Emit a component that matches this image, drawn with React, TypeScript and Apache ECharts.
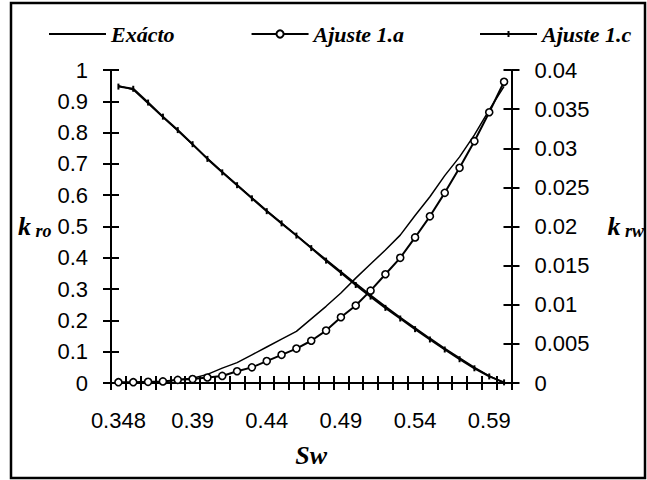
import React, { useEffect, useRef } from "react";
import * as echarts from "echarts";

const categories = [
  "0.348", "0.35", "0.36", "0.37", "0.38", "0.39", "0.4", "0.41", "0.42", "0.43",
  "0.44", "0.45", "0.46", "0.47", "0.48", "0.49", "0.5", "0.51", "0.52", "0.53",
  "0.54", "0.55", "0.56", "0.57", "0.58", "0.59", "0.6",
];

const kroExact = [
  0.95, 0.937, 0.893, 0.849, 0.806, 0.762, 0.718, 0.675, 0.633, 0.592,
  0.551, 0.511, 0.472, 0.433, 0.394, 0.356, 0.318, 0.281, 0.245, 0.21,
  0.176, 0.143, 0.111, 0.08, 0.05, 0.023, 0,
];

const krwExact = [
  0, 0, 0.0001, 0.0002, 0.0004, 0.0006, 0.0011, 0.0019, 0.0026, 0.0036,
  0.0046, 0.0056, 0.0066, 0.0082, 0.0098, 0.0115, 0.0134, 0.0152, 0.017, 0.0189,
  0.0214, 0.0238, 0.0265, 0.0289, 0.0317, 0.0349, 0.0379,
];

const krwAjuste1a = [
  0.0001, 0.0001, 0.00015, 0.0002, 0.0004, 0.0005, 0.0007, 0.0009, 0.0015, 0.002,
  0.0028, 0.0036, 0.0044, 0.0054, 0.0067, 0.0084, 0.0099, 0.0118, 0.0139, 0.016,
  0.0186, 0.0213, 0.0243, 0.0275, 0.0309, 0.0346, 0.0385,
];

const kroAjuste1c = [
  0.947, 0.94, 0.896, 0.851, 0.808, 0.763, 0.716, 0.673, 0.632, 0.59,
  0.549, 0.51, 0.471, 0.431, 0.391, 0.352, 0.313, 0.276, 0.24, 0.206,
  0.172, 0.139, 0.107, 0.076, 0.047, 0.021, 0.002,
];

const legendNames = ["Exácto", "Ajuste 1.a", "Ajuste 1.c"];

const SANS = "'Liberation Sans', Arial, sans-serif";
const SERIF = "'Liberation Serif', 'Times New Roman', serif";

export default function App() {
  const ref = useRef<HTMLDivElement>(null);

  useEffect(() => {
    document.body.style.margin = "0";
    if (!ref.current) return;
    const chart = echarts.init(ref.current, undefined, { renderer: "svg" });

    const labelStyle = { color: "#000", fontFamily: SANS, fontSize: 22 };
    const nameRich = {
      k: { fontFamily: SERIF, fontWeight: "bold", fontStyle: "italic", fontSize: 26, color: "#000" },
      s: { fontFamily: SERIF, fontWeight: "bold", fontStyle: "italic", fontSize: 18, color: "#000", padding: [9, 0, 0, 0] },
    };
    const tickStyle = { color: "#000", width: 2 };

    chart.setOption({
      animation: false,
      backgroundColor: "#fff",
      grid: { left: 111, right: 133, top: 70, bottom: 97, containLabel: false },
      legend: {
        data: [
          { name: legendNames[0], icon: "path://M0,0 L57,0 L57,2 L0,2 Z" },
          { name: legendNames[1] },
          { name: legendNames[2], icon: "path://M0,6 L57,6 L57,8 L0,8 Z M27.5,4 L29.5,4 L29.5,10 L27.5,10 Z" },
        ],
        top: 18,
        left: 44,
        itemWidth: 57,
        itemHeight: 9,
        itemGap: 76,
        textStyle: { fontFamily: SERIF, fontWeight: "bold", fontStyle: "italic", fontSize: 22, color: "#000" },
      },
      graphic: [
        {
          type: "rect",
          shape: { x: 11, y: 3, width: 634, height: 475 },
          style: { fill: "none", stroke: "#000", lineWidth: 2.5 },
          silent: true,
        },
      ],
      xAxis: [
        {
          type: "category",
          data: categories,
          position: "bottom",
          boundaryGap: true,
          axisLine: { show: true, lineStyle: { color: "#000", width: 2 } },
          axisTick: { show: true, interval: 0, length: 7, lineStyle: tickStyle },
          axisLabel: { ...labelStyle, interval: 4, margin: 26 },
          splitLine: { show: false },
          name: "Sw",
          nameLocation: "middle",
          nameGap: 59,
          nameTextStyle: { fontFamily: SERIF, fontWeight: "bold", fontStyle: "italic", fontSize: 26, color: "#000" },
        },
        {
          type: "category",
          data: categories,
          position: "bottom",
          boundaryGap: true,
          axisLine: { show: false },
          axisTick: { show: true, inside: true, interval: 0, length: 7, lineStyle: tickStyle },
          axisLabel: { show: false },
          splitLine: { show: false },
        },
      ],
      yAxis: [
        {
          type: "value",
          position: "left",
          min: 0,
          max: 1,
          interval: 0.1,
          axisLine: { show: true, lineStyle: { color: "#000", width: 2 } },
          axisTick: { show: true, length: 8, lineStyle: tickStyle },
          axisLabel: { ...labelStyle, margin: 23 },
          splitLine: { show: false },
          name: "{k|k}{s| ro}",
          nameLocation: "middle",
          nameRotate: 0,
          nameGap: 58,
          nameTextStyle: { rich: nameRich },
        },
        {
          type: "value",
          position: "right",
          min: 0,
          max: 0.04,
          interval: 0.005,
          axisLine: { show: true, lineStyle: { color: "#000", width: 2 } },
          axisTick: { show: true, length: 8, lineStyle: tickStyle },
          axisLabel: { ...labelStyle, margin: 23 },
          splitLine: { show: false },
          name: "{k|k}{s| rw}",
          nameLocation: "middle",
          nameRotate: 0,
          nameGap: 96,
          nameTextStyle: { rich: nameRich },
        },
        {
          type: "value",
          position: "left",
          min: 0,
          max: 1,
          interval: 0.1,
          axisLine: { show: false },
          axisTick: { show: true, inside: true, length: 8, lineStyle: tickStyle },
          axisLabel: { show: false },
          splitLine: { show: false },
        },
        {
          type: "value",
          position: "right",
          min: 0,
          max: 0.04,
          interval: 0.005,
          axisLine: { show: false },
          axisTick: { show: true, inside: true, length: 8, lineStyle: tickStyle },
          axisLabel: { show: false },
          splitLine: { show: false },
        },
      ],
      series: [
        {
          name: "Exácto",
          type: "line",
          yAxisIndex: 1,
          data: krwExact,
          symbol: "none",
          lineStyle: { color: "#000", width: 1.5 },
          itemStyle: { color: "#000" },
        },
        {
          name: "Exácto",
          type: "line",
          yAxisIndex: 0,
          data: kroExact,
          symbol: "none",
          lineStyle: { color: "#000", width: 1.5 },
          itemStyle: { color: "#000" },
        },
        {
          name: "Ajuste 1.a",
          type: "line",
          yAxisIndex: 1,
          data: krwAjuste1a,
          symbol: "circle",
          symbolSize: 7,
          lineStyle: { color: "#000", width: 2 },
          itemStyle: { color: "#fff", borderColor: "#000", borderWidth: 1.6 },
        },
        {
          name: "Ajuste 1.c",
          type: "line",
          yAxisIndex: 0,
          data: kroAjuste1c,
          symbol: "rect",
          symbolSize: [2, 6],
          lineStyle: { color: "#000", width: 2 },
          itemStyle: { color: "#000" },
        },
      ],
    });

    return () => chart.dispose();
  }, []);

  return <div ref={ref} style={{ width: 647, height: 480 }} />;
}
